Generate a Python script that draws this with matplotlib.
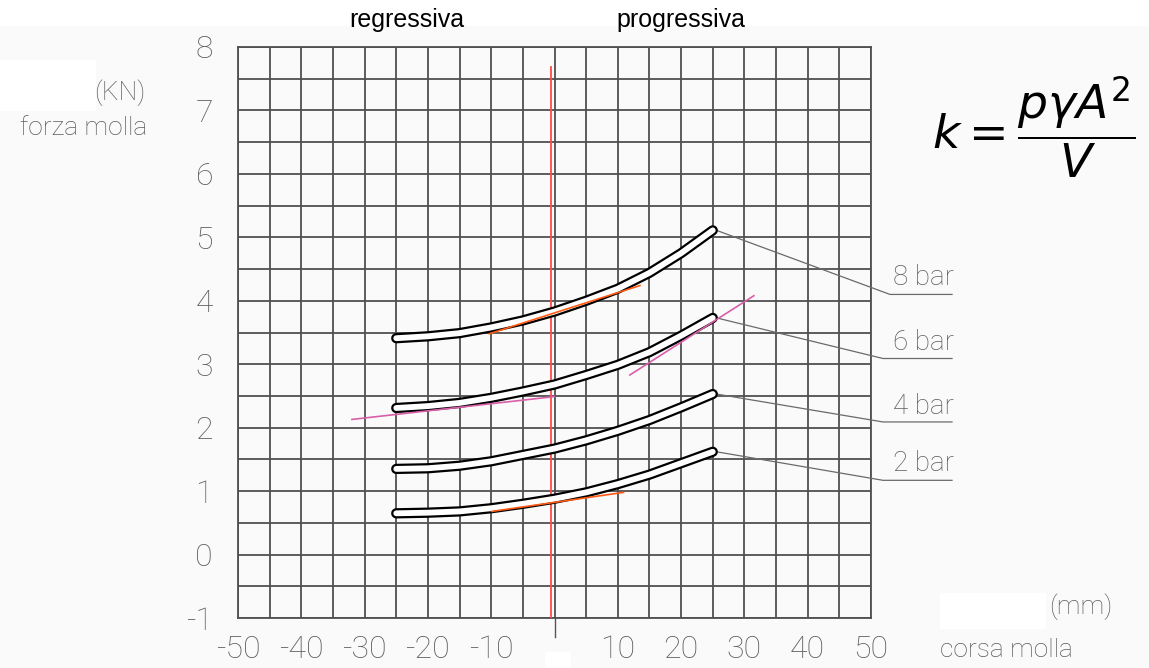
import numpy as np
import matplotlib.pyplot as plt
from matplotlib.patches import Rectangle

# corsa molla (mm) and forza molla (kN)
stroke_mm = [-25, -20, -15, -10, -5, 0, 5, 10, 15, 20, 25]
forza_2bar = [0.65, 0.66, 0.68, 0.73, 0.80, 0.88, 0.98, 1.11, 1.26, 1.44, 1.62]
forza_4bar = [1.35, 1.36, 1.40, 1.47, 1.57, 1.67, 1.80, 1.95, 2.12, 2.32, 2.53]
forza_6bar = [2.31, 2.34, 2.39, 2.47, 2.57, 2.68, 2.83, 2.99, 3.19, 3.45, 3.73]
forza_8bar = [3.41, 3.44, 3.49, 3.58, 3.69, 3.83, 4.00, 4.19, 4.44, 4.75, 5.11]
curve_labels = ['2 bar', '4 bar', '6 bar', '8 bar']

# tangent segments drawn on the curves (x pair, y pair)
tangent_orange = [([-10.3, 13.5], [3.48, 4.24]), ([-9.9, 10.9], [0.68, 0.98])]
tangent_pink = [([-32.0, 0.0], [2.13, 2.49]), ([11.9, 31.5], [2.83, 4.08])]

xtick_vals = [-50, -40, -30, -20, -10, 0, 10, 20, 30, 40, 50]
xtick_text = ['-50', '-40', '-30', '-20', '-10', '', '10', '20', '30', '40', '50']
ytick_vals = [-1, 0, 1, 2, 3, 4, 5, 6, 7, 8]
ytick_text = ['-1', '0', '1', '2', '3', '4', '5', '6', '7', '8']

cad = ['Roboto', 'DejaVu Sans']
gray_txt = '#5c5c5c'


def white_box(x0, y0, x1, y1):
    # scan artefacts, given in pixels from the top-left corner
    fig.add_artist(Rectangle((x0 / 1149, 1 - y1 / 668), (x1 - x0) / 1149, (y1 - y0) / 668,
                             transform=fig.transFigure, color='white', zorder=0))


fig = plt.figure(figsize=(11.49, 6.68), dpi=100, facecolor='#fafafa')
white_box(0, 0, 1149, 25)
white_box(940, 593, 1045, 628)
white_box(0, 60, 95, 110)
white_box(545, 652, 570, 668)

ax = fig.add_axes([238 / 1149, 50 / 668, 633 / 1149, 571 / 668])
ax.set_facecolor('#fafafa')
ax.set_xlim(-50, 50)
ax.set_ylim(-1, 8)

# square grid every 5 mm / 0.5 kN
ax.set_xticks(xtick_vals)
ax.set_xticklabels(xtick_text)
ax.set_xticks(np.arange(-50, 51, 5), minor=True)
ax.set_yticks(ytick_vals)
ax.set_yticklabels(ytick_text)
ax.set_yticks(np.arange(-1, 8.01, 0.5), minor=True)
ax.grid(which='both', color='#505050', lw=1.3)
ax.set_axisbelow(True)
for s in ax.spines.values():
    s.set_color('#505050')
    s.set_linewidth(1.3)
ax.tick_params(which='both', length=0)
ax.tick_params(axis='x', pad=12, labelsize=23, labelcolor=gray_txt)
ax.tick_params(axis='y', pad=18, labelsize=23, labelcolor=gray_txt)
for lab in ax.get_xticklabels() + ax.get_yticklabels():
    lab.set_family(cad)
    lab.set_fontweight('light')

# red axis line and the small tick under zero
ax.plot([-0.6, -0.6], [-1, 7.68], color='#ff4a4a', lw=1.3, zorder=3)
ax.plot([0, 0], [-1, -1.3], color='#555555', lw=1, clip_on=False)

# spring curves: double outline drawn as black line with white core
series = [forza_2bar, forza_4bar, forza_6bar, forza_8bar]
for ys in series:
    ax.plot(stroke_mm, ys, color='black', lw=7.4, solid_capstyle='round',
            solid_joinstyle='round', zorder=4)
    ax.plot(stroke_mm, ys, color='white', lw=4.2, solid_capstyle='round',
            solid_joinstyle='round', zorder=5)

for xs, ys in tangent_orange:
    ax.plot(xs, ys, color='#ff5a14', lw=1.2, zorder=6)
for xs, ys in tangent_pink:
    ax.plot(xs, ys, color='#d95fa8', lw=1.2, zorder=6)

# leader lines to the labels
knees = [(51.9, 1.17), (51.9, 2.09), (51.9, 3.09), (53.0, 4.10)]
text_y = [1.44, 2.34, 3.35, 4.36]
for ys, (kx, ky), lab, ty in zip(series, knees, curve_labels, text_y):
    ax.plot([stroke_mm[-1] + 0.6, kx, 62.8], [ys[-1], ky, ky], color='#6a6a6a',
            lw=0.9, clip_on=False, zorder=3)
    ax.text(53.5, ty, lab, fontsize=20, color=gray_txt, family=cad, fontweight='light',
            ha='left', va='center', clip_on=False)

# titles and axis captions
fig.text(407 / 1149, 1 - 20 / 668, 'regressiva', fontsize=18, family='Liberation Sans',
         ha='center', va='center')
fig.text(681 / 1149, 1 - 20 / 668, 'progressiva', fontsize=18, family='Liberation Sans',
         ha='center', va='center')
cap = dict(fontsize=19, family=cad, fontweight='light', color=gray_txt, va='center')
fig.text(145 / 1149, 1 - 93 / 668, '(KN)', ha='right', **cap)
fig.text(20 / 1149, 1 - 128 / 668, 'forza molla', ha='left', **cap)
fig.text(1112 / 1149, 1 - 607 / 668, '(mm)', ha='right', **cap)
fig.text(940 / 1149, 1 - 650 / 668, 'corsa molla', ha='left', **cap)

plt.rcParams['mathtext.fontset'] = 'dejavusans'
fig.text(932 / 1149, 1 - 127 / 668, r'$k = \dfrac{p\gamma A^2}{V}$', fontsize=34,
         ha='left', va='center', color='black')

plt.savefig('out.png', dpi=100, facecolor=fig.get_facecolor())
